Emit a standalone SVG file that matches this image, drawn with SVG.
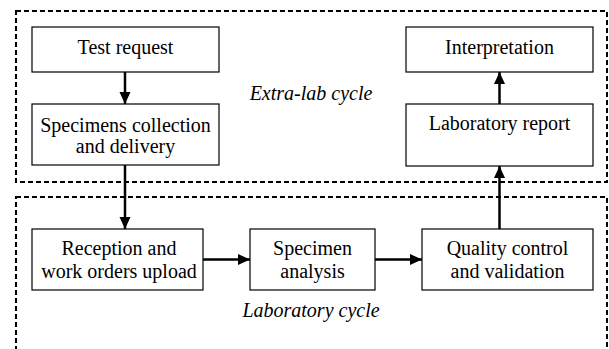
<svg xmlns="http://www.w3.org/2000/svg" width="609" height="349" viewBox="0 0 609 349">
<style>
.region{fill:none;stroke:#000;stroke-width:2;stroke-dasharray:5 3}
.box{fill:#fff;stroke:#000;stroke-width:1.2}
text{font-family:"Liberation Serif","Times New Roman",serif;font-size:20px;fill:#000;text-anchor:middle}
.it{font-style:italic}
.conn{stroke:#000;stroke-width:2.5;fill:none;marker-end:url(#ah)}
</style>
<defs>
<marker id="ah" markerUnits="userSpaceOnUse" markerWidth="12" markerHeight="12" viewBox="0 0 12 12" refX="12" refY="6" orient="auto">
<path d="M0,0.5 L12,6 L0,11.5 Z" fill="#000"/>
</marker>
</defs>
<g id="extra-lab-cycle">
<rect class="region" x="16" y="11" width="591" height="171"/>
<text class="it" x="311" y="100">Extra-lab cycle</text>
</g>
<g id="laboratory-cycle">
<rect class="region" x="16" y="197" width="591" height="170"/>
<text class="it" x="311" y="317">Laboratory cycle</text>
</g>
<g id="test-request">
<rect class="box" x="32" y="27" width="187" height="45"/>
<text x="125.5" y="54">Test request</text>
</g>
<g id="specimens-collection">
<rect class="box" x="32" y="104" width="187" height="61"/>
<text x="125.5" y="132">Specimens collection</text>
<text x="125.5" y="153">and delivery</text>
</g>
<g id="interpretation">
<rect class="box" x="406" y="27" width="187" height="45"/>
<text x="499.5" y="54">Interpretation</text>
</g>
<g id="laboratory-report">
<rect class="box" x="406" y="104" width="187" height="62"/>
<text x="499.5" y="130">Laboratory report</text>
</g>
<g id="reception">
<rect class="box" x="32" y="229" width="171" height="61"/>
<text x="119" y="255">Reception and</text>
<text x="119" y="278">work orders upload</text>
</g>
<g id="specimen-analysis">
<rect class="box" x="250" y="229" width="125" height="61"/>
<text x="312.5" y="255">Specimen</text>
<text x="312.5" y="278">analysis</text>
</g>
<g id="quality-control">
<rect class="box" x="422" y="229" width="171" height="61"/>
<text x="507.5" y="255">Quality control</text>
<text x="507.5" y="278">and validation</text>
</g>
<g id="connectors">
<line class="conn" x1="125" y1="72" x2="125" y2="104"/>
<line class="conn" x1="125" y1="165" x2="125" y2="229"/>
<line class="conn" x1="203" y1="259.5" x2="250" y2="259.5"/>
<line class="conn" x1="375" y1="259.5" x2="422" y2="259.5"/>
<line class="conn" x1="499.5" y1="229" x2="499.5" y2="166"/>
<line class="conn" x1="499.5" y1="104" x2="499.5" y2="72"/>
</g>
</svg>
